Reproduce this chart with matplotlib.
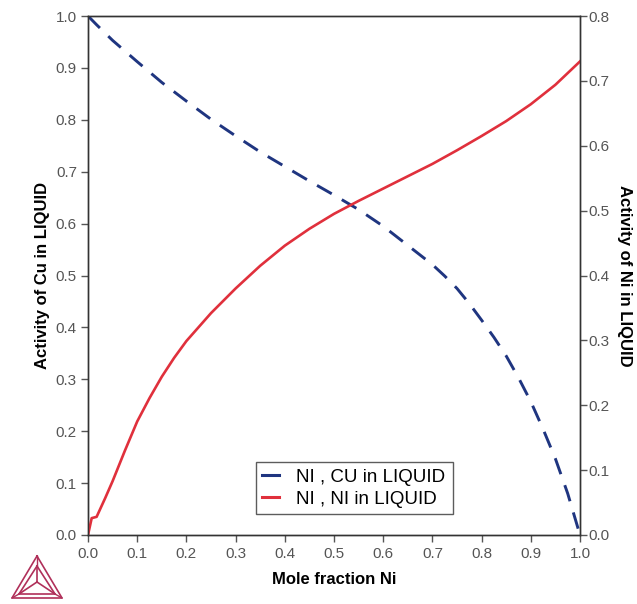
import matplotlib
matplotlib.use("Agg")
import matplotlib.pyplot as plt
from matplotlib.lines import Line2D

plt.rcParams['font.family'] = ['Liberation Sans', 'DejaVu Sans']

# Activity of Cu (left axis)
x_cu = [0.0, 0.0176, 0.05, 0.1, 0.15, 0.2, 0.25, 0.3, 0.35, 0.4, 0.45, 0.5, 0.55, 0.6,
        0.65, 0.7, 0.725, 0.75, 0.775, 0.8, 0.825, 0.85, 0.875, 0.9, 0.925, 0.95,
        0.975, 1.0]
a_cu = [1.0, 0.983, 0.953, 0.912, 0.872, 0.836, 0.801, 0.769, 0.738, 0.710, 0.682,
        0.655, 0.627, 0.595, 0.558, 0.521, 0.499, 0.475, 0.446, 0.414, 0.381, 0.345,
        0.303, 0.257, 0.204, 0.147, 0.080, 0.0]

# Activity of Ni (right axis)
x_ni = [0.0, 0.0075, 0.0175, 0.035, 0.05, 0.075, 0.1, 0.125, 0.15, 0.175, 0.2, 0.25,
        0.3, 0.35, 0.4, 0.45, 0.5, 0.55, 0.6, 0.65, 0.7, 0.75, 0.8, 0.85, 0.9, 0.95, 1.0]
a_ni = [0.0, 0.026, 0.028, 0.057, 0.083, 0.130, 0.175, 0.211, 0.244, 0.273, 0.299,
        0.342, 0.380, 0.415, 0.446, 0.472, 0.495, 0.515, 0.534, 0.553, 0.572, 0.593,
        0.615, 0.638, 0.664, 0.694, 0.730]

xticks = [0.0, 0.1, 0.2, 0.3, 0.4, 0.5, 0.6, 0.7, 0.8, 0.9, 1.0]
lticks = [0.0, 0.1, 0.2, 0.3, 0.4, 0.5, 0.6, 0.7, 0.8, 0.9, 1.0]
rticks = [0.0, 0.1, 0.2, 0.3, 0.4, 0.5, 0.6, 0.7, 0.8]

blue = '#1f3580'
red = '#e0303c'
grey = '#555555'

fig = plt.figure(figsize=(6.37, 6.04), dpi=100)
ax = fig.add_axes([88/637, 69/604, 492/637, 519/604])
ax2 = ax.twinx()

l1, = ax.plot(x_cu, a_cu, color=blue, lw=2.1, linestyle=(0, (5.8, 4.0)),
              label='NI , CU in LIQUID')
l2, = ax2.plot(x_ni, a_ni, color=red, lw=1.9, label='NI , NI in LIQUID')

ax.set_xlim(0, 1)
ax.set_ylim(0, 1)
ax2.set_ylim(0, 0.8)
ax.set_xticks(xticks)
ax.set_xticklabels([f'{t:.1f}' for t in xticks])
ax.set_yticks(lticks)
ax.set_yticklabels([f'{t:.1f}' for t in lticks])
ax2.set_yticks(rticks)
ax2.set_yticklabels([f'{t:.1f}' for t in rticks])

for a in (ax, ax2):
    a.tick_params(direction='out', length=5, width=1, color=grey,
                  labelcolor=grey, labelsize=11)
    for s in a.spines.values():
        s.set_color('#333333')
        s.set_linewidth(1.0)
ax2.tick_params(axis='y', pad=1)
ax.tick_params(axis='y', pad=3)

ax.set_xlabel('Mole fraction Ni', fontsize=12, fontweight='bold', labelpad=8)
ax.set_ylabel('Activity of Cu in LIQUID', fontsize=12, fontweight='bold', labelpad=4)
ax2.set_ylabel('Activity of Ni in LIQUID', fontsize=12, fontweight='bold',
               rotation=270, labelpad=16)

leg_lines = [Line2D([0], [0], color=blue, lw=2.2), Line2D([0], [0], color=red, lw=2.2)]
leg = ax2.legend(leg_lines, ['NI , CU in LIQUID', 'NI , NI in LIQUID'],
                 loc='lower left', bbox_to_anchor=(0.341, 0.040, 0.401, 0.137),
                 mode='expand', fontsize=13.5, frameon=True, fancybox=False,
                 handlelength=0.9, handletextpad=0.9, borderpad=0.35,
                 labelspacing=0.25, borderaxespad=0)
leg.get_frame().set_edgecolor('#333333')
leg.get_frame().set_linewidth(1.0)

# Thermo-Calc style logo (decoration)
lc = '#b0305a'
W, H = 637, 604
def fx(px):
    return px / W
def fy(py):
    return 1 - py / H
A = (37, 556); B = (12, 598); C = (62, 598)
a2 = (37, 566); b2 = (19, 594); c2 = (55, 594)
O = (37, 582)
for tri in ([A, B, C, A], [a2, b2, c2, a2]):
    fig.add_artist(Line2D([fx(p[0]) for p in tri], [fy(p[1]) for p in tri],
                          color=lc, lw=1.2))
for v in (a2, b2, c2):
    fig.add_artist(Line2D([fx(O[0]), fx(v[0])], [fy(O[1]), fy(v[1])], color=lc, lw=1.2))
for v1, v2 in ((A, a2), (B, b2), (C, c2)):
    fig.add_artist(Line2D([fx(v1[0]), fx(v2[0])], [fy(v1[1]), fy(v2[1])], color=lc, lw=1.0))

fig.savefig('out.png', dpi=100)
